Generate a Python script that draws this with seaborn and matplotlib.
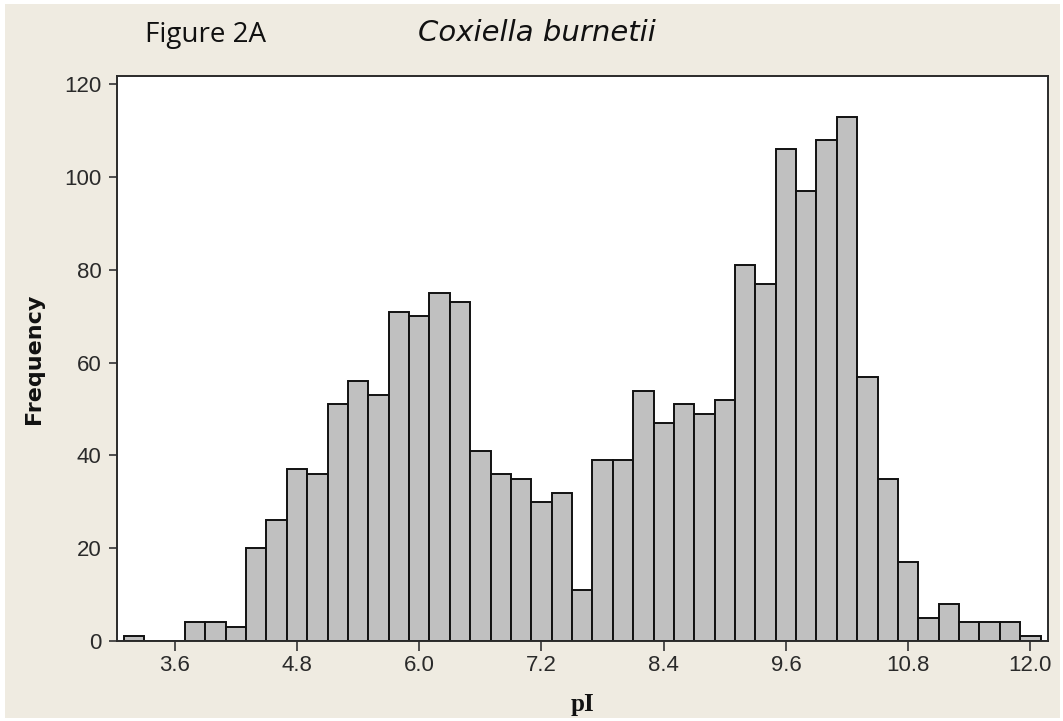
import numpy as np
import pandas as pd
import matplotlib
matplotlib.use("Agg")
import matplotlib.pyplot as plt
from matplotlib.patches import Rectangle
import seaborn as sns

# Histogram of isoelectric points (bin midpoints, width 0.2)
pi_midpoints = [3.2, 3.4, 3.6, 3.8, 4.0, 4.2, 4.4, 4.6, 4.8, 5.0,
                5.2, 5.4, 5.6, 5.8, 6.0, 6.2, 6.4, 6.6, 6.8, 7.0,
                7.2, 7.4, 7.6, 7.8, 8.0, 8.2, 8.4, 8.6, 8.8, 9.0,
                9.2, 9.4, 9.6, 9.8, 10.0, 10.2, 10.4, 10.6, 10.8, 11.0,
                11.2, 11.4, 11.6, 11.8, 12.0]
frequency = [1, 0, 0, 4, 4, 3, 20, 26, 37, 36,
             51, 56, 53, 71, 70, 75, 73, 41, 36, 35,
             30, 32, 11, 39, 39, 54, 47, 51, 49, 52,
             81, 77, 106, 97, 108, 113, 57, 35, 17, 5,
             8, 4, 4, 4, 1]
x_ticks = [3.6, 4.8, 6.0, 7.2, 8.4, 9.6, 10.8, 12.0]
y_ticks = [0, 20, 40, 60, 80, 100, 120]

bin_width = 0.2
bin_edges = [round(m - bin_width / 2, 2) for m in pi_midpoints]
bin_edges.append(round(pi_midpoints[-1] + bin_width / 2, 2))

df = pd.DataFrame({"pI": pi_midpoints, "count": frequency})

sns.set_theme(style="white")
plt.rcParams["font.family"] = ["DejaVu Sans"]

W, H = 1063, 721
fig = plt.figure(figsize=(W / 100, H / 100), dpi=100, facecolor="white")

# beige panel behind the chart
fig.patches.append(Rectangle((5 / W, 3 / H), (1060 - 5) / W, (721 - 4 - 3) / H,
                             transform=fig.transFigure, facecolor="#EFEBE1",
                             edgecolor="none", zorder=-10))

ax = fig.add_axes([116.7 / W, 1 - 641 / H, (1047.7 - 116.7) / W, (641 - 76) / H])
ax.set_facecolor("white")

sns.histplot(data=df, x="pI", weights="count", bins=bin_edges, ax=ax,
             color="#C0C0C0", alpha=1.0, edgecolor="#111111", linewidth=1.4)

ax.set_xlim(3.03, 12.17)
ax.set_ylim(0, 121.8)
ax.set_xticks(x_ticks)
ax.set_xticklabels([f"{t:.1f}" for t in x_ticks])
ax.set_yticks(y_ticks)
for lab in ax.get_xticklabels() + ax.get_yticklabels():
    lab.set_family("Liberation Sans")
ax.tick_params(axis="both", direction="out", width=1.2, color="#333333",
               labelsize=16, labelcolor="#2a2a2a", bottom=True, left=True)
ax.tick_params(axis="x", length=7, pad=3)
ax.tick_params(axis="y", length=6, pad=5)
for s in ax.spines.values():
    s.set_color("#2a2a2a")
    s.set_linewidth(1.4)

ax.set_xlabel("pI", family="Liberation Serif", fontweight="bold",
              fontsize=18, color="#111111")
ax.xaxis.set_label_coords(0.5, (641 - 693) / 565)
ax.set_ylabel("Frequency", fontweight="bold", fontsize=16, color="#111111")
ax.yaxis.set_label_coords((44 - 116.7) / 931, 0.5)

fig.text(145 / W, 1 - 35 / H, "Figure 2A", family="Open Sans",
         fontsize=20, color="#111111", ha="left", va="center")
fig.text(537 / W, 1 - 33 / H, "Coxiella burnetii", style="italic",
         fontsize=21, color="#111111", ha="center", va="center")

fig.savefig("out.png", dpi=100, facecolor="white")
